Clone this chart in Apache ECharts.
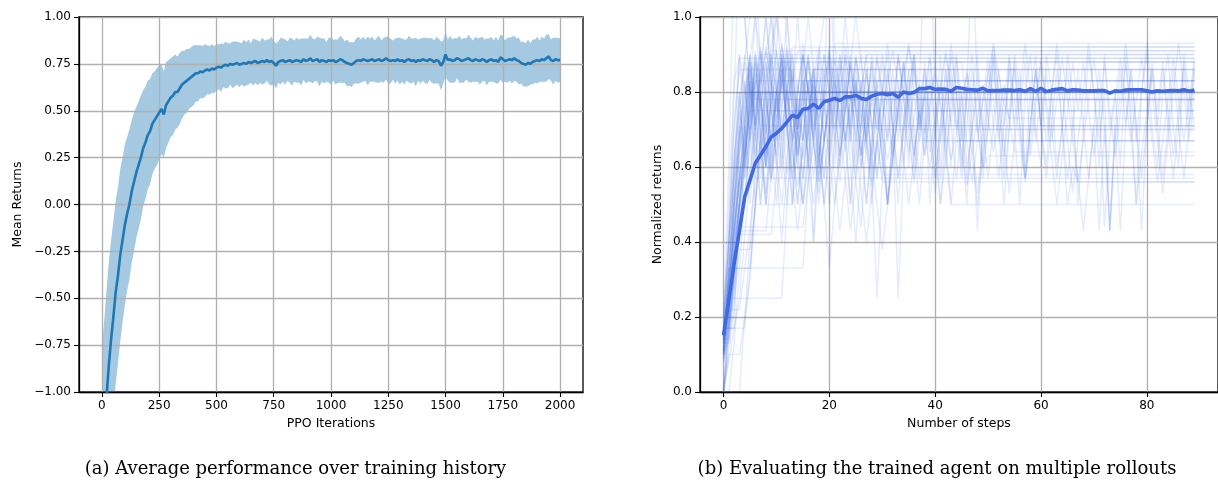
<!DOCTYPE html>
<html>
<head>
<meta charset="utf-8">
<script src="https://cdn.jsdelivr.net/npm/echarts@6/dist/echarts.min.js"></script>
<style>
  html, body { margin: 0; padding: 0; background: #fff; }
  #chart { width: 1218px; height: 483px; }
</style>
</head>
<body>
<div id="chart"></div>
<script>
// (a) training history: one value every 10 PPO iterations
var iterStep = 10;
var meanReturns = [
  -1.35, -1.2, -1.03, -0.86, -0.72, -0.6, -0.47, -0.38, -0.27, -0.19,
  -0.11, -0.05, 0.0, 0.07, 0.12, 0.17, 0.21, 0.25, 0.3, 0.33,
  0.37, 0.39, 0.43, 0.45, 0.47, 0.49, 0.51, 0.48, 0.53, 0.55,
  0.57, 0.58, 0.6, 0.6, 0.62, 0.64, 0.65, 0.66, 0.67, 0.68,
  0.69, 0.7, 0.7, 0.71, 0.705, 0.715, 0.72, 0.715, 0.725, 0.72,
  0.73, 0.735, 0.73, 0.74, 0.745, 0.74, 0.75, 0.745, 0.75, 0.755,
  0.745, 0.75, 0.755, 0.75, 0.76, 0.755, 0.76, 0.765, 0.755, 0.76,
  0.765, 0.76, 0.77, 0.76, 0.765, 0.755, 0.74, 0.76, 0.765, 0.77,
  0.76, 0.765, 0.77, 0.76, 0.765, 0.77, 0.765, 0.76, 0.775, 0.765,
  0.77, 0.78, 0.765, 0.77, 0.775, 0.76, 0.77, 0.765, 0.76, 0.77,
  0.765, 0.77, 0.76, 0.765, 0.775, 0.77, 0.76, 0.755, 0.75, 0.745,
  0.755, 0.765, 0.77, 0.765, 0.775, 0.77, 0.765, 0.77, 0.775, 0.765,
  0.77, 0.775, 0.765, 0.77, 0.78, 0.77, 0.765, 0.77, 0.765, 0.775,
  0.765, 0.77, 0.76, 0.77, 0.775, 0.765, 0.77, 0.76, 0.77, 0.765,
  0.775, 0.77, 0.765, 0.775, 0.77, 0.76, 0.77, 0.765, 0.74, 0.76,
  0.8, 0.77, 0.775, 0.765, 0.77, 0.78, 0.775, 0.765, 0.77, 0.775,
  0.78, 0.77, 0.765, 0.775, 0.77, 0.765, 0.775, 0.77, 0.76, 0.77,
  0.775, 0.765, 0.77, 0.76, 0.785, 0.775, 0.765, 0.77, 0.775, 0.77,
  0.78, 0.77, 0.765, 0.755, 0.75, 0.745, 0.755, 0.75, 0.76, 0.765,
  0.77, 0.765, 0.775, 0.77, 0.78, 0.79, 0.77, 0.765, 0.775, 0.77,
  0.77
];
var stdReturns = [
  0.6, 0.58, 0.57, 0.55, 0.53, 0.51, 0.49, 0.47, 0.46, 0.44,
  0.43, 0.41, 0.4, 0.38, 0.37, 0.35, 0.34, 0.33, 0.31, 0.3,
  0.29, 0.28, 0.27, 0.26, 0.26, 0.25, 0.24, 0.23, 0.23, 0.22,
  0.21, 0.21, 0.2, 0.19, 0.19, 0.18, 0.17, 0.17, 0.16, 0.16,
  0.16, 0.15, 0.15, 0.14, 0.14, 0.14, 0.13, 0.13, 0.13, 0.125,
  0.125, 0.12, 0.13, 0.115, 0.125, 0.12, 0.11, 0.125, 0.12, 0.115,
  0.12, 0.11, 0.125, 0.115, 0.12, 0.105, 0.125, 0.115, 0.12, 0.11,
  0.125, 0.115, 0.11, 0.12, 0.13, 0.115, 0.12, 0.11, 0.125, 0.115,
  0.12, 0.105, 0.12, 0.125, 0.11, 0.12, 0.115, 0.125, 0.11, 0.12,
  0.115, 0.125, 0.12, 0.11, 0.12, 0.13, 0.115, 0.12, 0.105, 0.12,
  0.125, 0.11, 0.12, 0.115, 0.125, 0.12, 0.11, 0.125, 0.115, 0.12,
  0.11, 0.12, 0.125, 0.115, 0.12, 0.11, 0.13, 0.115, 0.12, 0.11,
  0.12, 0.125, 0.11, 0.12, 0.115, 0.125, 0.12, 0.105, 0.12, 0.115,
  0.125, 0.115, 0.12, 0.11, 0.125, 0.12, 0.115, 0.13, 0.11, 0.12,
  0.115, 0.12, 0.125, 0.11, 0.12, 0.115, 0.125, 0.12, 0.13, 0.115,
  0.12, 0.11, 0.125, 0.115, 0.12, 0.105, 0.125, 0.115, 0.12, 0.11,
  0.125, 0.12, 0.11, 0.12, 0.115, 0.125, 0.12, 0.11, 0.125, 0.115,
  0.12, 0.11, 0.125, 0.115, 0.12, 0.125, 0.11, 0.12, 0.115, 0.125,
  0.12, 0.115, 0.125, 0.11, 0.12, 0.115, 0.125, 0.11, 0.12, 0.115,
  0.125, 0.11, 0.12, 0.115, 0.125, 0.12, 0.11, 0.125, 0.115, 0.12,
  0.115
];
var ppoTicks = [0, 250, 500, 750, 1000, 1250, 1500, 1750, 2000];

// (b) evaluation rollouts: one value per step; a rollout keeps its last value to the end
var numSteps = 90;
var stepTicks = [0, 20, 40, 60, 80];
var meanRollout = [
  0.151, 0.245, 0.343, 0.43, 0.52, 0.565, 0.61, 0.632, 0.654, 0.68,
  0.69, 0.703, 0.72, 0.738, 0.732, 0.754, 0.756, 0.768, 0.756, 0.774,
  0.778, 0.783, 0.777, 0.787, 0.787, 0.791, 0.783, 0.78, 0.789, 0.794,
  0.796, 0.793, 0.796, 0.786, 0.8, 0.796, 0.799, 0.809, 0.809, 0.812,
  0.807, 0.808, 0.807, 0.802, 0.812, 0.81, 0.807, 0.806, 0.805, 0.81,
  0.803, 0.804, 0.804, 0.805, 0.805, 0.804, 0.806, 0.802, 0.809, 0.802,
  0.81, 0.801, 0.805, 0.807, 0.809, 0.803, 0.806, 0.805, 0.803, 0.803,
  0.803, 0.804, 0.804, 0.797, 0.803, 0.802, 0.805, 0.806, 0.806, 0.806,
  0.803, 0.8, 0.803, 0.802, 0.803, 0.804, 0.803, 0.806, 0.802, 0.805
];
var rollouts = [
  [0.17, 0.5, 0.83, 0.89],
  [0.14, 0.43, 0.71, 0.86],
  [0.2, 0.4, 0.6, 0.8, 0.6, 0.8],
  [0.13, 0.38, 0.63, 0.75, 0.88, 0.75],
  [0.11, 0.33, 0.56, 0.67, 0.78, 0.89, 0.78],
  [0.1, 0.2, 0.5, 0.7, 0.8, 0.9, 0.8, 0.9],
  [0.17, 0.33, 0.5, 0.67, 0.83, 0.67, 0.83],
  [0.14, 0.29, 0.57, 0.71, 0.57, 0.71, 0.86, 0.71],
  [0.09, 0.18, 0.36, 0.55, 0.64, 0.73, 0.82, 0.91, 0.82, 0.91],
  [0.08, 0.17, 0.33, 0.5, 0.67, 0.75, 0.83, 0.92, 0.83, 0.92, 1.0, 0.92, 0.83, 0.92],
  [0.13, 0.25, 0.5, 0.63, 0.75, 0.88, 0.75, 0.88],
  [0.2, 0.4, 0.8, 1.2, 1.0, 0.8],
  [0.11, 0.22, 0.44, 0.67, 0.78, 0.89, 1.0, 0.89, 0.78, 0.67, 0.78, 0.89, 0.78],
  [0.14, 0.29, 0.43, 0.57, 0.57, 0.71, 0.57],
  [0.0, 0.25, 0.25, 0.25, 0.25, 0.25, 0.25, 0.25, 0.25, 0.25, 0.25, 0.25, 0.5, 0.75, 0.63, 0.75, 0.88, 0.75, 0.88],
  [0.11, 0.33, 0.33, 0.33, 0.33, 0.33, 0.33, 0.33, 0.33, 0.33, 0.33, 0.33, 0.33, 0.33, 0.33, 0.33, 0.56, 0.67, 0.78, 0.67,
   0.78, 0.89, 0.78, 0.67, 0.78, 0.89, 0.78, 0.67, 0.78, 0.67, 0.78],
  [0.17, 0.17, 0.17, 0.5, 0.5, 0.67, 0.83, 0.67, 0.5, 0.67, 0.83, 0.67, 0.83, 0.67, 0.5, 0.67, 0.83, 0.67, 0.83, 0.67],
  [0.0, 0.11, 0.22, 0.44, 0.44, 0.44, 0.44, 0.44, 0.44, 0.44, 0.44, 0.44, 0.44, 0.44, 0.44, 0.44, 0.56, 0.67, 0.56, 0.67,
   0.78, 0.67, 0.56, 0.67, 0.78, 0.89, 0.78, 0.67, 0.56, 0.67, 0.56],
  [0.1, 0.3, 0.5, 0.7, 0.9, 0.8, 0.7, 0.8, 0.9, 1.0, 0.9, 0.8, 0.9, 0.8, 0.7, 0.8, 0.9, 0.8, 0.9, 1.0, 1.3, 0.93],
  [0.14, 0.29, 0.43, 0.57, 0.71, 0.86, 0.71, 0.86, 1.0, 0.86, 0.71, 0.57, 0.71, 0.86, 0.71, 0.86, 1.0, 0.86],
  [0.0, 0.17, 0.33, 0.5, 0.67, 0.83, 0.67, 0.83, 1.0, 0.83, 0.67, 0.83],
  [0.2, 0.4, 0.6, 0.8, 0.6, 0.8, 1.0, 0.8, 0.6, 0.8, 0.6, 0.4, 0.6, 0.8, 1.0, 0.8, 0.6, 0.8, 0.6, 0.8, 0.8],
  [0.13, 0.25, 0.38, 0.5, 0.63, 0.75, 0.88, 0.75, 0.88, 0.75, 0.63, 0.75, 0.88, 0.75, 0.63, 0.5, 0.63, 0.75, 0.88, 0.75,
   0.88, 0.75, 0.63, 0.75, 0.88, 1.0, 0.88, 0.75, 0.63, 0.75, 0.88, 0.75, 0.63, 0.75, 0.88, 0.75, 0.63, 0.75, 0.88, 0.75, 0.75],
  [0.17, 0.17, 0.33, 0.5, 0.67, 0.83, 0.67, 0.5, 0.67, 0.83, 0.67, 0.83, 1.0, 0.83, 0.67, 0.5, 0.67, 0.83, 0.67, 0.5,
   0.33, 0.5, 0.67, 0.83, 0.67, 0.83, 0.67, 0.5, 0.67, 0.83, 0.67, 0.5, 0.67, 0.83, 0.67, 0.83, 0.67, 0.5, 0.67, 0.83,
   0.67, 0.83, 0.67, 0.5, 0.67, 0.67],
  [0.1, 0.2, 0.3, 0.5, 0.6, 0.7, 0.8, 0.7, 0.6, 0.7, 0.8, 0.9, 0.8, 0.7, 0.6, 0.5, 0.6, 0.7, 0.8, 0.9,
   0.8, 0.7, 0.8, 0.9, 0.8, 0.7, 0.6, 0.7, 0.8, 0.7, 0.8, 0.9, 0.7, 0.5, 0.7, 0.8, 0.9, 0.8, 0.7, 0.6,
   0.7, 0.8, 0.9, 0.8, 0.7, 0.8, 0.6, 0.7, 0.8, 0.7, 0.7],
  [0.09, 0.27, 0.45, 0.64, 0.73, 0.82, 0.73, 0.64, 0.73, 0.82, 0.91, 0.82, 0.73, 0.64, 0.55, 0.64, 0.73, 0.82, 0.73, 0.82,
   0.91, 0.82, 0.73, 0.64, 0.73, 0.82, 0.73, 0.64, 0.55, 0.64, 0.73, 0.82, 0.91, 0.82, 0.73, 0.64, 0.73, 0.82, 0.73, 0.64,
   0.73, 0.82, 0.91, 0.82, 0.73, 0.64, 0.55, 0.64, 0.73, 0.82, 0.73, 0.64, 0.73, 0.82, 0.73, 0.64, 0.64],
  [0.08, 0.15, 0.31, 0.46, 0.62, 0.77, 0.85, 0.77, 0.69, 0.77, 0.85, 0.92, 0.85, 0.77, 0.69, 0.62, 0.69, 0.77, 0.85, 0.77,
   0.69, 0.77, 0.85, 0.92, 0.85, 0.77, 0.69, 0.77, 0.85, 0.77, 0.69, 0.62, 0.69, 0.77, 0.85, 0.92, 0.85, 0.77, 0.69, 0.77,
   0.85, 0.77, 0.69, 0.62, 0.69, 0.77, 0.85, 0.77, 0.69, 0.77, 0.85, 0.92, 0.85, 0.77, 0.73],
  [0.1, 0.4, 0.7, 0.9, 0.8, 0.7, 0.9, 0.8, 0.6, 0.8, 0.9, 1.2, 0.9, 0.8, 0.7, 0.9, 0.8, 0.7, 0.9, 0.8,
   0.6, 0.8, 0.9, 0.8, 0.7, 0.9, 0.8, 0.9, 0.9],
  [0.17, 0.17, 0.33, 0.33, 0.33, 0.33, 0.5, 0.5, 0.5, 0.5, 0.5, 0.5, 0.5, 0.5, 0.67, 0.83, 0.67, 0.83, 0.67, 0.5,
   0.67, 0.83, 0.67, 0.83, 0.67, 0.83, 0.67, 0.5, 0.67, 0.83, 0.83],
  [0.0, 0.0, 0.0, 0.0, 0.2, 0.4, 0.6, 0.6, 0.8, 0.6, 0.8, 0.6, 0.8, 0.6, 0.8, 0.8],
  [0.12, 0.25, 0.38, 0.5, 0.63, 0.75, 0.63, 0.75, 0.88, 0.75, 0.63, 0.5, 0.63, 0.75, 0.63, 0.75, 0.88, 0.75, 0.63, 0.75,
   0.63, 0.5, 0.63, 0.75, 0.88, 0.75, 0.63, 0.75, 0.63, 0.5, 0.38, 0.5, 0.63, 0.75, 0.63, 0.5, 0.63, 0.75, 0.63, 0.75,
   0.63, 0.5, 0.63, 0.5],
  [0.0, 0.1, 0.1, 0.1, 0.2, 0.3, 0.5, 0.7, 0.8, 0.9, 0.8, 0.7, 0.8, 0.9, 0.8, 0.9, 0.8, 0.86],
  [0.13, 0.13, 0.25, 0.38, 0.38, 0.38, 0.5, 0.63, 0.75, 0.88, 0.75, 0.88, 0.88],
  [0.11, 0.22, 0.22, 0.22, 0.33, 0.44, 0.56, 0.67, 0.78, 0.67, 0.78, 0.89, 0.78, 0.67, 0.78, 0.67, 0.83],
  [0.17, 0.33, 0.5, 0.67, 0.83, 0.67, 0.5, 0.67, 0.83, 1.0, 0.83, 0.67, 0.5, 0.67, 0.83, 0.67, 0.83, 0.67, 0.5, 0.67,
   0.83, 0.67, 0.83, 1.0, 0.83, 0.67, 0.83, 0.67, 0.5, 0.67, 0.83, 0.67, 0.8],
  [0.14, 0.14, 0.29, 0.43, 0.43, 0.43, 0.43, 0.43, 0.43, 0.57, 0.71, 0.86, 0.71, 0.57, 0.71, 0.86, 0.71, 0.57, 0.71, 0.71],
  [0.2, 0.2, 0.4, 0.4, 0.6, 0.8, 0.6, 0.8, 0.6, 0.75],
  [0.1, 0.2, 0.4, 0.5, 0.7, 0.9, 0.7, 0.5, 0.7, 0.9, 0.8, 0.6, 0.8, 0.9, 0.7, 0.8, 0.9, 0.7, 0.6, 0.8,
   0.9, 0.8, 0.7, 0.9, 0.8, 0.6, 0.8, 0.9, 0.7, 0.8, 0.9, 0.8, 0.7, 0.9, 0.8, 0.7, 0.8, 0.78],
  [0.0, 0.17, 0.17, 0.17, 0.17, 0.33, 0.5, 0.67, 0.83, 0.67, 0.5, 0.67, 0.83, 0.67, 0.5, 0.67, 0.83, 0.67, 0.83, 0.67,
   0.5, 0.67, 0.83, 0.67, 0.5, 0.67, 0.83, 0.67, 0.83, 0.7],
  [0.09, 0.18, 0.27, 0.45, 0.64, 0.82, 0.91, 0.82, 0.91, 0.82, 0.73, 0.82, 0.91, 0.82, 0.91, 0.91],
  [0.11, 0.33, 0.56, 0.78, 0.89, 1.0, 1.1, 0.89, 0.78, 0.89, 0.89],
  [0.14, 0.29, 0.43, 0.57, 0.71, 0.57, 0.71, 0.86, 0.71, 0.57, 0.71, 0.86, 0.71, 0.57, 0.71, 0.57, 0.71, 0.86, 0.71, 0.57,
   0.71, 0.86, 0.71, 0.57, 0.43, 0.57, 0.71, 0.86, 0.71, 0.57, 0.71, 0.86, 0.71, 0.57, 0.71, 0.86, 0.71, 0.57, 0.71, 0.86,
   0.71, 0.57, 0.71, 0.86, 0.71, 0.57, 0.71, 0.86, 0.71, 0.57, 0.71, 0.86, 0.71, 0.57, 0.71, 0.86, 0.71, 0.57, 0.71, 0.86, 0.71],
  [0.13, 0.25, 0.5, 0.75, 0.63, 0.75, 0.88, 0.75, 0.63, 0.75, 0.88, 0.75, 0.88, 0.75, 0.63, 0.75, 0.63, 0.5, 0.63, 0.75,
   0.88, 0.75, 0.63, 0.75, 0.88, 0.75, 0.63, 0.75, 0.88, 0.75, 0.63, 0.5, 0.63, 0.75, 0.88, 0.75, 0.63, 0.75, 0.67],
  [0.0, 0.08, 0.17, 0.25, 0.42, 0.58, 0.75, 0.83, 0.92, 0.83, 0.75, 0.83, 0.92, 0.83, 0.75, 0.67, 0.75, 0.83, 0.92, 0.83,
   0.92, 0.92],
  [0.17, 0.25, 0.33, 0.42, 0.42, 0.42, 0.42, 0.42, 0.42, 0.42, 0.58, 0.75, 0.58, 0.67, 0.75, 0.83, 0.75, 0.67, 0.58, 0.67,
   0.75, 0.83, 0.75, 0.67, 0.75, 0.83, 0.75, 0.67, 0.58, 0.67, 0.58],
  [0.0, 0.2, 0.4, 0.6, 0.5, 0.7, 0.9, 0.7, 0.5, 0.8, 0.6, 0.9, 0.7, 0.5, 0.8, 0.9, 0.6, 0.4, 0.7, 0.9,
   0.8, 0.6, 0.9, 0.7, 0.5, 0.8, 0.9, 0.7, 0.6, 0.9, 0.8, 0.5, 0.7, 0.9, 0.8, 0.6, 0.9, 0.7, 0.8, 0.5,
   0.7, 0.9, 0.6, 0.8, 0.9, 0.7, 0.5, 0.8, 0.9, 0.6, 0.7, 0.9, 0.8, 0.6, 0.9, 0.7, 0.5, 0.8, 0.9, 0.7,
   0.6, 0.9, 0.8, 0.6, 0.7, 0.9, 0.8, 0.5, 0.7, 0.9, 0.8, 0.6, 0.9, 0.7, 0.8, 0.6, 0.9, 0.7, 0.5, 0.8,
   0.9, 0.7, 0.6, 0.8, 0.9, 0.7, 0.6, 0.9, 0.8, 0.7],
  [0.14, 0.29, 0.43, 0.57, 0.71, 0.86, 0.71, 0.57, 0.71, 0.86, 1.0, 0.86, 0.71, 0.86, 0.71, 0.57, 0.71, 0.86, 0.71, 0.86,
   0.71, 0.57, 0.43, 0.57, 0.71, 0.86, 0.71, 0.86, 0.71, 0.57, 0.71, 0.86, 0.71, 0.57, 0.71, 0.86, 0.86, 0.71, 0.86, 0.71,
   0.57, 0.71, 0.86, 0.71, 0.86, 0.71, 0.57, 0.71, 0.86, 0.71, 0.57, 0.71, 0.86, 0.71, 0.86, 0.86, 0.71, 0.57, 0.71, 0.86,
   0.71, 0.86, 0.71, 0.57, 0.71, 0.86, 0.71, 0.57, 0.43, 0.57, 0.71, 0.86, 0.71, 0.43, 0.71, 0.86, 0.71, 0.86, 0.71, 0.57,
   0.71, 0.86, 0.71, 0.86, 0.71, 0.57, 0.71, 0.86, 0.71, 0.86],
  [0.11, 0.22, 0.44, 0.56, 0.67, 0.78, 0.89, 0.78, 0.67, 0.56, 0.67, 0.78, 0.89, 0.78, 0.67, 0.78, 0.89, 0.78, 0.56, 0.67,
   0.78, 0.89, 0.78, 0.89, 0.67, 0.56, 0.44, 0.67, 0.78, 0.89, 0.78, 0.67, 0.78, 0.89, 0.78, 0.67, 0.56, 0.67, 0.78, 0.89,
   0.78, 0.67, 0.78, 0.89, 0.89, 0.78, 0.67, 0.56, 0.67, 0.78, 0.89, 0.78, 0.67, 0.78, 0.89, 0.78, 0.67, 0.56, 0.67, 0.78,
   0.89, 0.78, 0.67, 0.78, 0.89, 0.78, 0.67, 0.56, 0.67, 0.78, 0.89, 0.78, 0.44, 0.67, 0.78, 0.89, 0.78, 0.67, 0.78, 0.89,
   0.78, 0.67, 0.56, 0.67, 0.78, 0.89, 0.78, 0.67, 0.78, 0.89],
  [0.13, 0.25, 0.38, 0.63, 0.75, 0.88, 0.75, 0.63, 0.5, 0.63, 0.75, 0.88, 0.75, 0.88, 0.75, 0.63, 0.75, 0.88, 0.63, 0.5,
   0.63, 0.75, 0.88, 0.75, 0.88, 0.75, 0.63, 0.75, 0.88, 0.75, 0.63, 0.5, 0.63, 0.75, 0.88, 0.75, 0.88, 0.75, 0.63, 0.75,
   0.88, 0.75, 0.63, 0.75, 0.88, 0.88, 0.75, 0.63, 0.5, 0.63, 0.75, 0.88, 0.75, 0.63, 0.75, 0.88, 0.75, 0.88, 0.63, 0.75,
   0.88, 0.75, 0.63, 0.5, 0.63, 0.75, 0.88, 0.75, 0.88, 0.75, 0.63, 0.75, 0.88, 0.75, 0.63, 0.75, 0.88, 0.75, 0.5, 0.63,
   0.75, 0.88, 0.75, 0.88, 0.75, 0.63, 0.75, 0.88, 0.75, 0.88],
  [0.0, 0.14, 0.29, 0.57, 0.71, 0.86, 0.71, 0.86, 0.71, 0.57, 0.71, 0.86, 0.71, 0.57, 0.43, 0.57, 0.71, 0.86, 0.71, 0.57,
   0.71, 0.86, 0.71, 0.86, 0.71, 0.57, 0.71, 0.86, 0.57, 0.25, 0.57, 0.71, 0.86, 0.71, 0.86, 0.71, 0.57, 0.71, 0.86, 0.71,
   0.57, 0.71, 0.86, 0.71, 0.57, 0.71, 0.86, 0.71, 0.43, 0.71, 0.86, 0.71, 0.57, 0.71, 0.86, 0.71, 0.86, 0.57, 0.71, 0.86,
   0.71, 0.57, 0.71, 0.86, 0.71, 0.57, 0.71, 0.86, 0.71, 0.57, 0.71, 0.43, 0.71, 0.43, 0.71, 0.43, 0.71, 0.86, 0.71, 0.43,
   0.71, 0.86, 0.71, 0.57, 0.71, 0.86, 0.71, 0.57, 0.71, 0.86],
  [0.1, 0.3, 0.6, 0.9, 0.7, 0.5, 0.7, 0.9, 0.8, 0.6, 0.8, 0.9, 0.7, 0.5, 0.7, 0.9, 0.8, 0.4, 0.6, 0.8,
   0.9, 0.7, 0.6, 0.8, 0.9, 0.8, 0.6, 0.7, 0.9, 0.8, 0.7, 0.5, 0.7, 0.25, 0.6, 0.8, 0.9, 0.7, 0.8, 0.9,
   0.7, 0.5, 0.7, 0.9, 0.8, 0.6, 0.8, 0.9, 0.7, 0.6, 0.8, 0.9, 0.7, 0.5, 0.7, 0.9, 0.8, 0.6, 0.8, 0.9,
   0.7, 0.6, 0.8, 0.9, 0.7, 0.5, 0.6, 0.56],
  [0.2, 0.6, 1.2, 1.4, 1.0, 0.8, 0.6, 0.8, 0.6, 0.8, 1.2, 1.4, 1.0, 0.8, 0.6, 0.8, 0.6, 0.8, 0.6, 0.8,
   1.2, 0.8, 0.6, 0.8, 0.6, 0.4, 0.6, 0.8, 0.6, 0.8, 0.6, 0.8, 0.6, 0.8, 0.6, 0.8, 0.6, 0.8, 1.2, 1.2,
   0.8, 0.6, 0.8, 0.6, 0.8, 0.6, 0.8, 1.2, 0.8, 0.6, 0.63],
  [0.0, 0.0, 0.13, 0.33, 0.53, 0.67, 0.8, 0.67, 0.53, 0.67, 0.8, 0.93, 0.8, 0.67, 0.8, 0.93, 0.8, 0.67, 0.53, 0.67,
   0.8, 0.93, 0.8, 0.67, 0.8, 0.67, 0.53, 0.4, 0.53, 0.67, 0.8, 0.93, 0.8, 0.67, 0.8, 0.93, 0.8, 0.67, 0.8, 0.67,
   0.53, 0.67, 0.8, 0.93, 0.8, 0.67, 0.8, 0.67, 0.53, 0.67, 0.8, 0.93, 0.8, 0.67, 0.53, 0.67, 0.8, 0.93, 0.8, 0.67,
   0.8, 0.67, 0.8, 0.93, 0.8, 0.67, 0.53, 0.67, 0.8, 0.93, 0.8, 0.67, 0.8, 0.43, 0.67, 0.8, 0.93, 0.8, 0.67, 0.8,
   0.93, 0.8, 0.67, 0.53, 0.67, 0.8, 0.93, 0.8, 0.67, 0.8]
];

var captionA = '(a) Average performance over training history';
var captionB = '(b) Evaluating the trained agent on multiple rollouts';

var chart = echarts.init(document.getElementById('chart'));

var sans = 'DejaVu Sans';
var gridLine = { show: true, lineStyle: { color: '#b0b0b0', width: 1.3 } };
var spine = { show: true, onZero: false, lineStyle: { color: '#000', width: 1.3 } };
var tick = { show: true, inside: false, length: 5, lineStyle: { color: '#000', width: 1.1 } };
var tickText = { color: '#000', fontSize: 12, fontFamily: sans, margin: 8 };
var nameText = { color: '#000', fontSize: 12.5, fontFamily: sans };

function minusFmt(digits) {
  return function (v) {
    var s = Math.abs(v).toFixed(digits);
    return v < -1e-9 ? '\u2212' + s : s;
  };
}
function plainFmt(v) { return String(v); }

var meanPoints = meanReturns.map(function (v, i) { return [i * iterStep, v]; });

function rolloutPoints(vals) {
  var pts = vals.slice(0, numSteps).map(function (v, i) { return [i, v]; });
  if (pts.length < numSteps) pts.push([numSteps - 1, vals[vals.length - 1]]);
  return pts;
}

var series = [
  {
    type: 'custom',
    xAxisIndex: 0, yAxisIndex: 0,
    z: 1, clip: true, silent: true,
    data: [[0, 0]],
    renderItem: function (params, api) {
      var pts = [];
      for (var i = 0; i < meanReturns.length; i++) {
        pts.push(api.coord([i * iterStep, meanReturns[i] + stdReturns[i]]));
      }
      for (var j = meanReturns.length - 1; j >= 0; j--) {
        pts.push(api.coord([j * iterStep, meanReturns[j] - stdReturns[j]]));
      }
      return { type: 'polygon', shape: { points: pts }, style: { fill: '#1f77b4', opacity: 0.4 } };
    }
  },
  {
    type: 'line', xAxisIndex: 0, yAxisIndex: 0,
    data: meanPoints, showSymbol: false, z: 3, clip: true, silent: true,
    lineStyle: { color: '#1f77b4', width: 2.6 }
  }
];

rollouts.forEach(function (r) {
  series.push({
    type: 'line', xAxisIndex: 1, yAxisIndex: 1,
    data: rolloutPoints(r), showSymbol: false, z: 2, clip: true, silent: true,
    lineStyle: { color: 'rgba(65,105,225,0.13)', width: 1.5 }
  });
});

series.push({
  type: 'line', xAxisIndex: 1, yAxisIndex: 1,
  data: meanRollout.map(function (v, i) { return [i, v]; }),
  showSymbol: false, z: 5, clip: true, silent: true,
  lineStyle: { color: '#4169e1', width: 3.6 }
});

chart.setOption({
  animation: false,
  backgroundColor: '#fff',
  grid: [
    { left: 79, top: 17, width: 504, height: 375, show: true, borderColor: '#000', borderWidth: 1.3, backgroundColor: 'transparent' },
    { left: 700, top: 17, width: 523, height: 375, show: true, borderColor: '#000', borderWidth: 1.3, backgroundColor: 'transparent' }
  ],
  xAxis: [
    {
      gridIndex: 0, type: 'value', min: -100, max: 2100, z: 1.5,
      axisLine: spine,
      axisTick: Object.assign({ customValues: ppoTicks }, tick),
      axisLabel: Object.assign({ customValues: ppoTicks, formatter: plainFmt }, tickText),
      splitLine: gridLine,
      name: 'PPO Iterations', nameLocation: 'middle', nameGap: 25, nameTextStyle: nameText
    },
    {
      gridIndex: 1, type: 'value', min: -4.45, max: 93.45,
      axisLine: spine,
      axisTick: Object.assign({ customValues: stepTicks }, tick),
      axisLabel: Object.assign({ customValues: stepTicks, formatter: plainFmt }, tickText),
      splitLine: gridLine,
      name: 'Number of steps', nameLocation: 'middle', nameGap: 25, nameTextStyle: nameText
    }
  ],
  yAxis: [
    {
      gridIndex: 0, type: 'value', min: -1, max: 1, interval: 0.25, z: 1.5,
      axisLine: spine, axisTick: tick,
      axisLabel: Object.assign({ formatter: minusFmt(2) }, tickText),
      splitLine: gridLine,
      name: 'Mean Returns', nameLocation: 'middle', nameGap: 55, nameTextStyle: nameText
    },
    {
      gridIndex: 1, type: 'value', min: 0, max: 1, interval: 0.2,
      axisLine: spine, axisTick: tick,
      axisLabel: Object.assign({ formatter: minusFmt(1) }, tickText),
      splitLine: gridLine,
      name: 'Normalized returns', nameLocation: 'middle', nameGap: 36, nameTextStyle: nameText
    }
  ],
  graphic: [
    { type: 'text', x: 295.5, y: 469, silent: true,
      style: { text: captionA, textAlign: 'center', textVerticalAlign: 'middle', font: '18px "DejaVu Serif"', fill: '#000' } },
    { type: 'text', x: 937, y: 469, silent: true,
      style: { text: captionB, textAlign: 'center', textVerticalAlign: 'middle', font: '18px "DejaVu Serif"', fill: '#000' } }
  ],
  series: series
});
</script>
</body>
</html>
